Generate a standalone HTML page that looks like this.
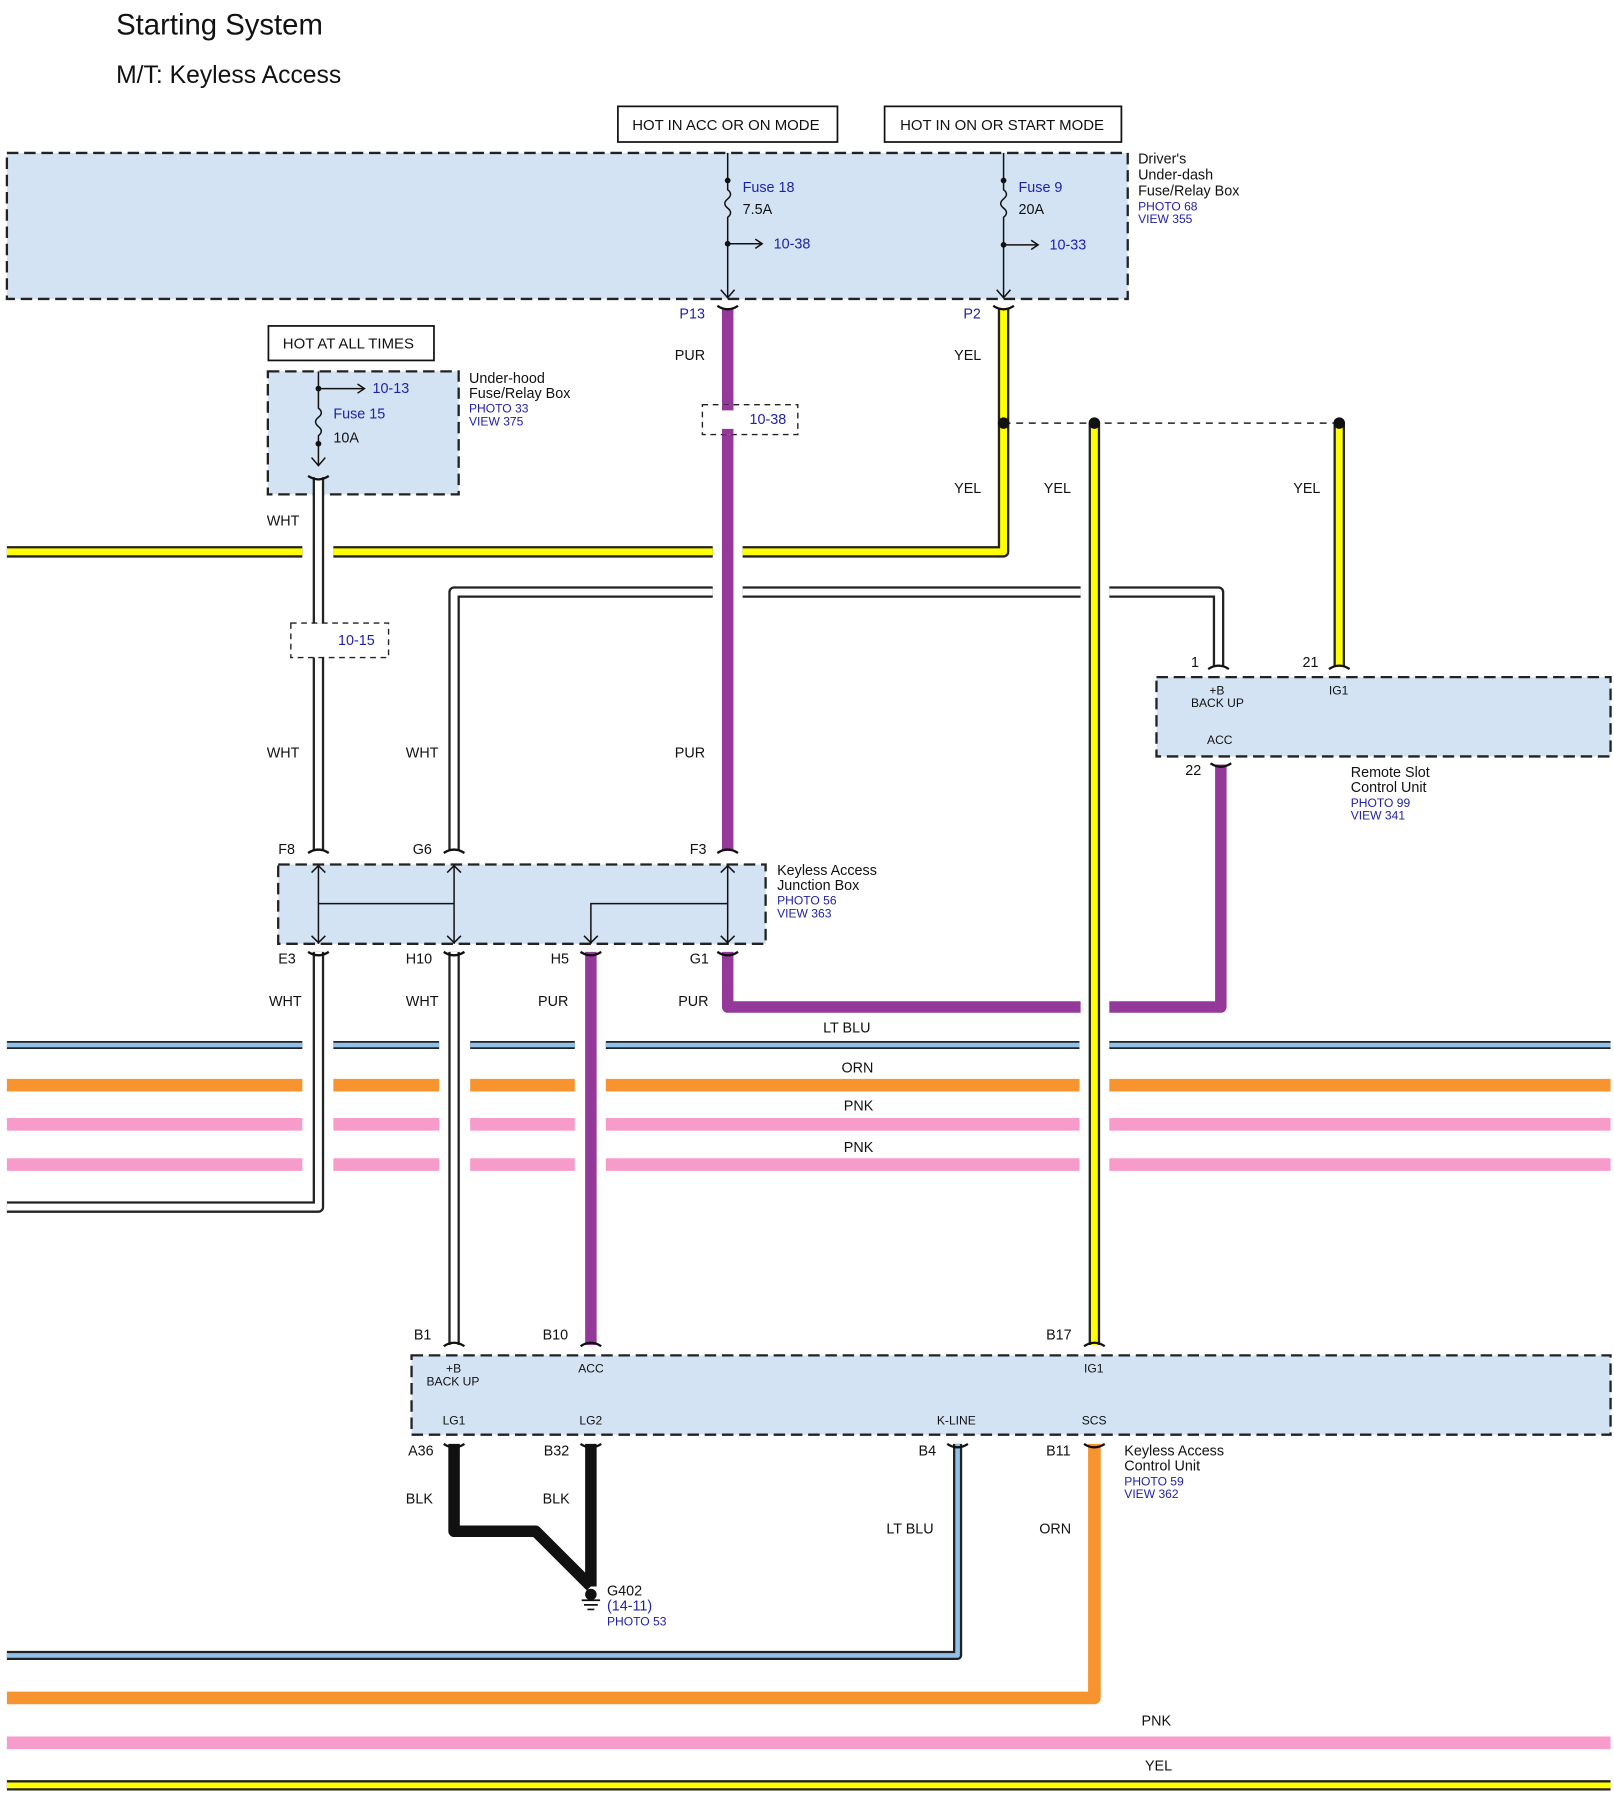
<!DOCTYPE html>
<html><head><meta charset="utf-8"><style>
html,body{margin:0;padding:0;background:#fff}
svg{display:block}
text{font-family:"Liberation Sans",sans-serif;font-size:12.5px;fill:#111}
.b{fill:#1f1fa8}
.s{font-size:10.5px}
</style></head><body>
<svg width="1614" height="1798" viewBox="0 0 1404 1564" xmlns="http://www.w3.org/2000/svg">
<text x="101" y="30" style="font-size:25.5px">Starting System</text>
<text x="101" y="72" style="font-size:21.5px">M/T: Keyless Access</text>

<!-- mode boxes -->
<rect x="537.5" y="92.5" width="191" height="31" fill="#fff" stroke="#111" stroke-width="1.5"/>
<text x="550" y="113" style="font-size:13px">HOT IN ACC OR ON MODE</text>
<rect x="769.5" y="92.5" width="206" height="31" fill="#fff" stroke="#111" stroke-width="1.5"/>
<text x="783" y="113" style="font-size:13px">HOT IN ON OR START MODE</text>
<rect x="233.5" y="283.5" width="144" height="30" fill="#fff" stroke="#111" stroke-width="1.5"/>
<text x="246" y="303" style="font-size:13px">HOT AT ALL TIMES</text>

<!-- component boxes -->
<g fill="#d3e3f4" stroke="#222" stroke-width="2" stroke-dasharray="10,5">
<rect x="6" y="133" width="975" height="127"/>
<rect x="233" y="323" width="166" height="107"/>
<rect x="1006" y="589" width="395" height="69"/>
<rect x="242" y="752" width="424" height="69"/>
<rect x="358" y="1179" width="1043" height="69"/>
</g>

<text x="990" y="142">Driver's</text><text x="990" y="156">Under-dash</text><text x="990" y="170">Fuse/Relay Box</text>
<text x="990" y="183" class="b s">PHOTO 68</text><text x="990" y="194" class="b s">VIEW 355</text>
<text x="408" y="333">Under-hood</text><text x="408" y="346">Fuse/Relay Box</text>
<text x="408" y="359" class="b s">PHOTO 33</text><text x="408" y="370" class="b s">VIEW 375</text>
<text x="1175" y="676">Remote Slot</text><text x="1175" y="689">Control Unit</text>
<text x="1175" y="702" class="b s">PHOTO 99</text><text x="1175" y="713" class="b s">VIEW 341</text>
<text x="676" y="761">Keyless Access</text><text x="676" y="774">Junction Box</text>
<text x="676" y="787" class="b s">PHOTO 56</text><text x="676" y="798" class="b s">VIEW 363</text>
<text x="978" y="1266">Keyless Access</text><text x="978" y="1279">Control Unit</text>
<text x="978" y="1292" class="b s">PHOTO 59</text><text x="978" y="1303" class="b s">VIEW 362</text>

<g stroke="#111" stroke-width="1.3" fill="none">
<path d="M633 133V165 q5 4 0 8 q-5 4 0 8 q5 4 0 8 V258"/>
<path d="M633 212H662"/><path d="M657 208l6 4-6 4"/>
<path d="M627 252l6 7 6-7"/>
<path d="M873 133V165 q5 4 0 8 q-5 4 0 8 q5 4 0 8 V258"/>
<path d="M873 213H902"/><path d="M897 209l6 4-6 4"/>
<path d="M867 252l6 7 6-7"/>
<path d="M277 323V355 q5 4 0 8 q-5 4 0 8 q5 4 0 8 V404"/>
<path d="M277 338H316"/><path d="M311 334l6 4-6 4"/>
<path d="M271 398l6 7 6-7"/>
<path d="M277 752V821M395 752V821M633 752V821M277 786H395M514 821V786H633"/>
<path d="M271 759l6-6 6 6M271 814l6 6 6-6M389 759l6-6 6 6M389 814l6 6 6-6M627 759l6-6 6 6M627 814l6 6 6-6M508 814l6 6 6-6"/>
</g>
<g fill="#111"><circle cx="633" cy="157" r="2.5"/><circle cx="633" cy="212" r="2.5"/><circle cx="873" cy="157" r="2.5"/><circle cx="873" cy="213" r="2.5"/><circle cx="277" cy="338" r="2.5"/><circle cx="277" cy="386" r="2.5"/></g>
<text x="646" y="167" class="b">Fuse 18</text><text x="646" y="186">7.5A</text><text x="673" y="216" class="b">10-38</text>
<text x="886" y="167" class="b">Fuse 9</text><text x="886" y="186">20A</text><text x="913" y="217" class="b">10-33</text>
<text x="324" y="342" class="b">10-13</text><text x="290" y="364" class="b">Fuse 15</text><text x="290" y="385">10A</text>

<g fill="none">
<g stroke="#222" stroke-width="7"><path d="M6 909H263M290 909H382M409 909H500M527 909H939M965 909H1401"/></g>
<g stroke="#8fc1ea" stroke-width="4"><path d="M6 909H263M290 909H382M409 909H500M527 909H939M965 909H1401"/></g>
<g stroke="#f7942f" stroke-width="11"><path d="M6 944H263M290 944H382M409 944H500M527 944H939M965 944H1401"/></g>
<g stroke="#f79bcb" stroke-width="11"><path d="M6 978H263M290 978H382M409 978H500M527 978H939M965 978H1401M6 1013H263M290 1013H382M409 1013H500M527 1013H939M965 1013H1401"/></g>
<path d="M6 1516H1401" stroke="#f79bcb" stroke-width="11"/>
<path d="M6 1553H1401" stroke="#222" stroke-width="9"/><path d="M6 1553H1401" stroke="#ffff00" stroke-width="5"/>

<g stroke="#222" stroke-width="10" stroke-linejoin="round">
<path d="M873 268V480H646M620 480H290M263 480H6"/>
<path d="M952 368V1170"/><path d="M1165 368V580"/>
</g>
<g stroke="#ffff00" stroke-width="6" stroke-linejoin="round">
<path d="M873 268V480H646M620 480H290M263 480H6"/>
<path d="M952 368V1170"/><path d="M1165 368V580"/>
</g>
<path d="M873 368H1165" stroke="#222" stroke-width="1.3" stroke-dasharray="6,5"/>

<g stroke="#222" stroke-width="10" stroke-linejoin="round">
<path d="M277 415V542M277 572V740"/>
<path d="M395 740V515H620M646 515H940M965 515H1060V580"/>
<path d="M277 828V1050H6"/>
<path d="M395 828V1170"/>
</g>
<g stroke="#fff" stroke-width="6" stroke-linejoin="round">
<path d="M277 415V542M277 572V740"/>
<path d="M395 740V515H620M646 515H940M965 515H1060V580"/>
<path d="M277 828V1050H6"/>
<path d="M395 828V1170"/>
</g>

<g stroke="#94389a" stroke-width="10" stroke-linejoin="round">
<path d="M633 268V352M633 378V740"/>
<path d="M1062 665V876H965M940 876H633V828"/>
<path d="M514 828V1170"/>
</g>

<path d="M395 1256V1332H466L514 1380M514 1256V1380" stroke="#111" stroke-width="10" stroke-linejoin="round"/>
<path d="M833 1256V1440H6" stroke="#222" stroke-width="8" stroke-linejoin="round"/>
<path d="M833 1256V1440H6" stroke="#8fc1ea" stroke-width="4" stroke-linejoin="round"/>
<path d="M952 1256V1477H6" stroke="#f7942f" stroke-width="11" stroke-linejoin="round"/>
</g>

<g fill="none" stroke="#222" stroke-width="1.2" stroke-dasharray="5,4">
<rect x="611" y="352" width="83" height="26"/>
<rect x="253" y="542" width="85" height="30"/>
</g>
<rect x="622" y="353" width="22" height="24" fill="#fff"/>
<path d="M633 352V357M633 373V378" stroke="#94389a" stroke-width="10"/>
<text x="652" y="369" class="b">10-38</text>
<text x="294" y="561" class="b">10-15</text>

<g fill="#111">
<circle cx="873" cy="368" r="5"/><circle cx="952" cy="368" r="5"/><circle cx="1165" cy="368" r="5"/>
</g>

<g stroke="#111" stroke-width="2" fill="none">
<path d="M624 266q9 6 18 0M864 266q9 6 18 0M268 414q9 6 18 0M268 742q9-6 18 0M386 742q9-6 18 0M624 742q9-6 18 0M268 828q9 6 18 0M386 828q9 6 18 0M505 828q9 6 18 0M624 828q9 6 18 0M1051 582q9-6 18 0M1156 582q9-6 18 0M1053 664q9 6 18 0M386 1171q9-6 18 0M505 1171q9-6 18 0M943 1171q9-6 18 0M386 1256q9 6 18 0M505 1256q9 6 18 0M824 1256q9 6 18 0M943 1256q9 6 18 0"/>
</g>

<g stroke="#111" stroke-width="1.5"><path d="M506 1392H522M508 1396H520M511 1400H517"/></g>
<circle cx="514" cy="1387" r="5" fill="#111"/>
<text x="528" y="1388">G402</text><text x="528" y="1401" class="b">(14-11)</text><text x="528" y="1414" class="b s">PHOTO 53</text>

<text x="591" y="277" class="b">P13</text><text x="838" y="277" class="b">P2</text>
<text x="587" y="313">PUR</text><text x="830" y="313">YEL</text>
<text x="830" y="429">YEL</text><text x="908" y="429">YEL</text><text x="1125" y="429">YEL</text>
<text x="232" y="457">WHT</text>
<text x="232" y="659">WHT</text><text x="353" y="659">WHT</text><text x="587" y="659">PUR</text>
<text x="1036" y="580">1</text><text x="1133" y="580">21</text><text x="1031" y="674">22</text>
<text x="1052" y="604" class="s">+B</text><text x="1036" y="615" class="s">BACK UP</text><text x="1156" y="604" class="s">IG1</text><text x="1050" y="647" class="s">ACC</text>
<text x="242" y="743">F8</text><text x="359" y="743">G6</text><text x="600" y="743">F3</text>
<text x="242" y="838">E3</text><text x="353" y="838">H10</text><text x="479" y="838">H5</text><text x="600" y="838">G1</text>
<text x="234" y="875">WHT</text><text x="353" y="875">WHT</text><text x="468" y="875">PUR</text><text x="590" y="875">PUR</text>
<text x="716" y="898">LT BLU</text><text x="732" y="933">ORN</text><text x="734" y="966">PNK</text><text x="734" y="1002">PNK</text>
<text x="360" y="1165">B1</text><text x="472" y="1165">B10</text><text x="910" y="1165">B17</text>
<text x="388" y="1194" class="s">+B</text><text x="371" y="1205" class="s">BACK UP</text><text x="503" y="1194" class="s">ACC</text><text x="943" y="1194" class="s">IG1</text>
<text x="385" y="1239" class="s">LG1</text><text x="504" y="1239" class="s">LG2</text><text x="815" y="1239" class="s">K-LINE</text><text x="941" y="1239" class="s">SCS</text>
<text x="355" y="1266">A36</text><text x="473" y="1266">B32</text><text x="799" y="1266">B4</text><text x="910" y="1266">B11</text>
<text x="353" y="1308">BLK</text><text x="472" y="1308">BLK</text><text x="771" y="1334">LT BLU</text><text x="904" y="1334">ORN</text>
<text x="993" y="1501">PNK</text><text x="996" y="1540">YEL</text>
</svg>
</body></html>
